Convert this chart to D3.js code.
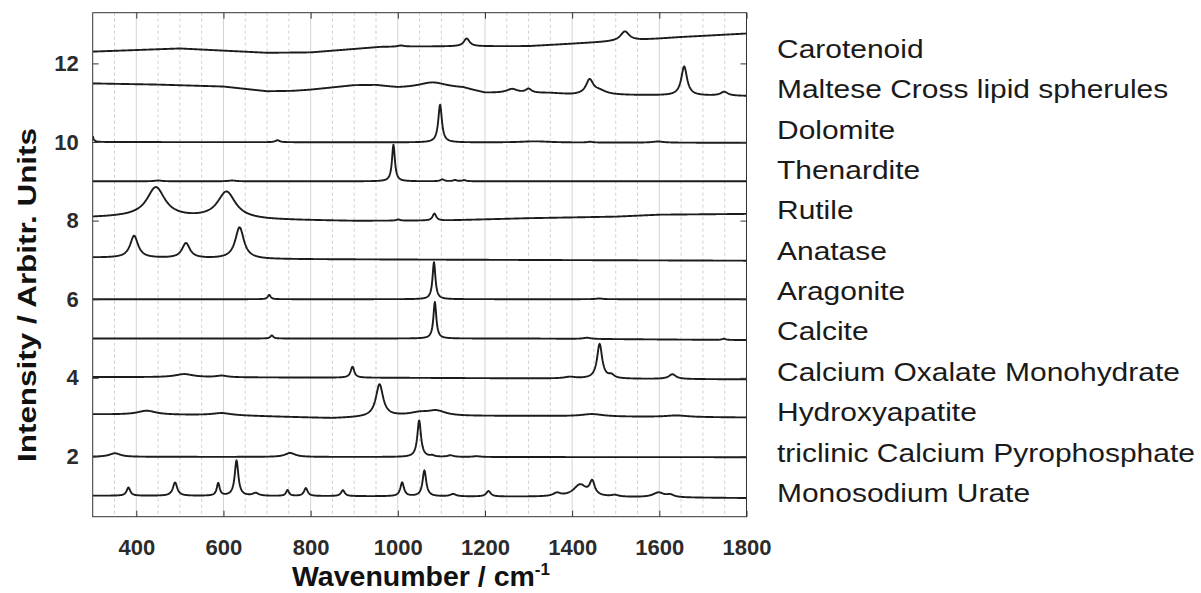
<!DOCTYPE html>
<html>
<head>
<meta charset="utf-8">
<script src="https://cdn.jsdelivr.net/npm/d3@7"></script>
<style>
  html, body { margin: 0; padding: 0; background: #fff; }
  svg { display: block; font-family: Arial, 'Liberation Sans', sans-serif; }
</style>
</head>
<body>
<svg id="chart" width="1201" height="593"></svg>
<script>
// axis values
const xTicks = [400, 600, 800, 1000, 1200, 1400, 1600, 1800];
const yTicks = [2, 4, 6, 8, 10, 12];
const labels = [
  'Carotenoid',
  'Maltese Cross lipid spherules',
  'Dolomite',
  'Thenardite',
  'Rutile',
  'Anatase',
  'Aragonite',
  'Calcite',
  'Calcium Oxalate Monohydrate',
  'Hydroxyapatite',
  'triclinic Calcium Pyrophosphate',
  'Monosodium Urate',
];

// baseline knots [wavenumber, intensity] and peaks [centre, height, half width]
const carotenoidBase = [[300, 12.3], [500, 12.38], [700, 12.27], [800, 12.28], [960, 12.42], [1030, 12.43], [1300, 12.44], [1480, 12.55], [1560, 12.6], [1650, 12.67], [1800, 12.76]];
const carotenoidPeaks = [[1007, 0.03, 8], [1158, 0.2, 8], [1521, 0.24, 12]];

const malteseBase = [[300, 11.49], [450, 11.46], [600, 11.41], [700, 11.29], [760, 11.3], [800, 11.33], [900, 11.44], [950, 11.44], [1000, 11.37], [1150, 11.36], [1200, 11.24], [1350, 11.24], [1400, 11.2], [1800, 11.17]];
const maltesePeaks = [[1080, 0.15, 40], [1262, 0.1, 15], [1300, 0.1, 8], [1440, 0.36, 10], [1462, 0.1, 20], [1657, 0.74, 8], [1749, 0.1, 10]];

const dolomiteBase = [[300, 10.0], [1800, 9.98]];
const dolomitePeaks = [[298, 0.22, 3], [724, 0.05, 6], [1097, 0.96, 5], [1315, 0.03, 40], [1441, 0.02, 6], [1597, 0.03, 15]];

const thenarditeBase = [[300, 9.0], [1800, 9.0]];
const thenarditePeaks = [[450, 0.02, 10], [620, 0.02, 10], [990, 0.93, 4], [1102, 0.05, 5], [1131, 0.03, 5], [1152, 0.03, 5]];

const rutileBase = [[300, 8.08], [400, 8.1], [700, 8.02], [900, 7.99], [1100, 8.0], [1300, 8.06], [1500, 8.1], [1600, 8.15], [1800, 8.17]];
const rutilePeaks = [[445, 0.75, 25], [607, 0.68, 25], [1001, 0.03, 5], [1084, 0.18, 5]];

const anataseBase = [[300, 7.06], [700, 7.02], [1800, 6.98]];
const anatasePeaks = [[395, 0.56, 11], [514, 0.38, 11], [637, 0.8, 12]];

const aragoniteBase = [[300, 6.0], [1800, 6.0]];
const aragonitePeaks = [[705, 0.11, 4], [1083, 0.94, 4], [1462, 0.02, 8]];

const calciteBase = [[300, 5.0], [1300, 5.0], [1800, 4.96]];
const calcitePeaks = [[711, 0.08, 4], [1085, 0.93, 4], [1434, 0.03, 10], [1748, 0.03, 5]];

const oxalateBase = [[300, 4.02], [1000, 4.0], [1800, 3.96]];
const oxalatePeaks = [[510, 0.08, 25], [596, 0.04, 15], [896, 0.28, 5], [1395, 0.04, 15], [1463, 0.88, 7], [1490, 0.08, 8], [1630, 0.12, 10]];

const apatiteBase = [[300, 3.07], [600, 3.05], [850, 2.97], [1000, 3.02], [1300, 3.03], [1500, 3.01], [1800, 2.99]];
const apatitePeaks = [[424, 0.1, 25], [596, 0.05, 25], [958, 0.82, 10], [1050, 0.08, 30], [1089, 0.12, 25], [1446, 0.06, 30], [1640, 0.04, 30]];

const pyrophosphateBase = [[300, 1.99], [1800, 1.98]];
const pyrophosphatePeaks = [[351, 0.09, 15], [753, 0.1, 14], [1049, 0.93, 5], [1079, 0.03, 6], [1121, 0.04, 8], [1181, 0.02, 10]];

const urateBase = [[300, 1.0], [800, 0.99], [1400, 0.97], [1800, 0.94]];
const uratePeaks = [[382, 0.21, 5], [489, 0.34, 6], [588, 0.32, 4], [630, 0.9, 5], [674, 0.07, 8], [747, 0.15, 4], [789, 0.2, 5], [874, 0.15, 5], [1010, 0.35, 5], [1061, 0.66, 5], [1127, 0.06, 8], [1208, 0.14, 6], [1365, 0.08, 10], [1418, 0.3, 18], [1446, 0.35, 7], [1498, 0.04, 10], [1598, 0.12, 15], [1625, 0.06, 10]];

const spectra = [
  [carotenoidBase, carotenoidPeaks],
  [malteseBase, maltesePeaks],
  [dolomiteBase, dolomitePeaks],
  [thenarditeBase, thenarditePeaks],
  [rutileBase, rutilePeaks],
  [anataseBase, anatasePeaks],
  [aragoniteBase, aragonitePeaks],
  [calciteBase, calcitePeaks],
  [oxalateBase, oxalatePeaks],
  [apatiteBase, apatitePeaks],
  [pyrophosphateBase, pyrophosphatePeaks],
  [urateBase, uratePeaks],
];

const svg = d3.select('#chart');
const plotLeft = 92.7, plotRight = 746.5, plotTop = 12.7, plotBottom = 516.7;

const x = d3.scaleLinear().domain([300, 1800]).range([plotLeft, plotRight]);
const y = d3.scaleLinear().domain([0.466, 13.29]).range([plotBottom, plotTop]);

// build a spectrum: baseline + lorentzian bands
function buildSpectrum(base, peaks) {
  const baseline = d3.scaleLinear().domain(base.map((d) => d[0])).range(base.map((d) => d[1]));
  return d3.range(300, 1800.5, 1).map((wn) => {
    let v = baseline(wn);
    peaks.forEach(([c, h, w]) => {
      const t = (wn - c) / w;
      v += h / (1 + t * t);
    });
    return [wn, v];
  });
}

// grid: dashed every 50, solid at major ticks
const minor = d3.range(350, 1800, 50).filter((v) => v % 200 !== 0);
svg.append('g')
  .selectAll('line')
  .data(minor)
  .join('line')
  .attr('x1', (d) => x(d)).attr('x2', (d) => x(d))
  .attr('y1', plotTop).attr('y2', plotBottom)
  .attr('stroke', '#cfcfcf')
  .attr('stroke-width', 1)
  .attr('stroke-dasharray', '3,3');

svg.append('g')
  .selectAll('line')
  .data(xTicks.filter((d) => d < 1800))
  .join('line')
  .attr('x1', (d) => x(d)).attr('x2', (d) => x(d))
  .attr('y1', plotTop).attr('y2', plotBottom)
  .attr('stroke', '#d4d4d4')
  .attr('stroke-width', 1);

// spectra
svg.append('clipPath').attr('id', 'plotClip')
  .append('rect')
  .attr('x', plotLeft).attr('y', plotTop)
  .attr('width', plotRight - plotLeft).attr('height', plotBottom - plotTop);

const line = d3.line().x((d) => x(d[0])).y((d) => y(d[1]));

svg.append('g')
  .attr('clip-path', 'url(#plotClip)')
  .selectAll('path')
  .data(spectra.map(([b, p]) => buildSpectrum(b, p)))
  .join('path')
  .attr('d', line)
  .attr('fill', 'none')
  .attr('stroke', '#1c1c1c')
  .attr('stroke-width', 1.9)
  .attr('stroke-linejoin', 'round');

// axes (ticks pointing inward)
const tickFont = (g) => g.selectAll('text')
  .attr('font-size', 22)
  .attr('font-weight', 'bold')
  .attr('fill', '#2b2b2b')
  .attr('font-family', 'Arial, Liberation Sans, sans-serif');

svg.append('g')
  .attr('transform', `translate(0,${plotBottom})`)
  .call(d3.axisBottom(x).tickValues(xTicks).tickFormat(d3.format('d')).tickSize(-6).tickPadding(23).tickSizeOuter(0))
  .call((g) => g.select('.domain').remove())
  .call((g) => g.selectAll('line').attr('stroke', '#333'))
  .call(tickFont);

svg.append('g')
  .attr('transform', `translate(0,${plotTop})`)
  .call(d3.axisTop(x).tickValues(xTicks).tickSize(-6).tickFormat('').tickSizeOuter(0))
  .call((g) => g.select('.domain').remove())
  .call((g) => g.selectAll('line').attr('stroke', '#333'));

svg.append('g')
  .attr('transform', `translate(${plotLeft},0)`)
  .call(d3.axisLeft(y).tickValues(yTicks).tickSize(-6).tickPadding(14).tickSizeOuter(0))
  .call((g) => g.select('.domain').remove())
  .call((g) => g.selectAll('line').attr('stroke', '#333'))
  .call(tickFont);

svg.append('g')
  .attr('transform', `translate(${plotRight},0)`)
  .call(d3.axisRight(y).tickValues(yTicks).tickSize(-6).tickFormat('').tickSizeOuter(0))
  .call((g) => g.select('.domain').remove())
  .call((g) => g.selectAll('line').attr('stroke', '#333'));

// frame
svg.append('rect')
  .attr('x', plotLeft).attr('y', plotTop)
  .attr('width', plotRight - plotLeft).attr('height', plotBottom - plotTop)
  .attr('fill', 'none')
  .attr('stroke', '#333')
  .attr('stroke-width', 1);

// axis titles
const xTitle = svg.append('text')
  .attr('x', 421).attr('y', 586)
  .attr('text-anchor', 'middle')
  .attr('font-size', 28.5)
  .attr('font-weight', 'bold')
  .attr('fill', '#111');
xTitle.append('tspan').text('Wavenumber / cm');
xTitle.append('tspan').text('-1').attr('font-size', 17).attr('dy', -11);

svg.append('text')
  .attr('transform', 'translate(36,295) rotate(-90)')
  .attr('text-anchor', 'middle')
  .attr('font-size', 26)
  .attr('font-weight', 'bold')
  .attr('fill', '#111')
  .attr('textLength', 334)
  .attr('lengthAdjust', 'spacingAndGlyphs')
  .text('Intensity / Arbitr. Units');

// spectrum names on the right
svg.append('g')
  .selectAll('text')
  .data(labels)
  .join('text')
  .attr('transform', (d, i) => `translate(777,${58 + i * 40.35}) scale(1.175,1)`)
  .attr('font-size', 25.5)
  .attr('fill', '#1a1a1a')
  .text((d) => d);
</script>
</body>
</html>
